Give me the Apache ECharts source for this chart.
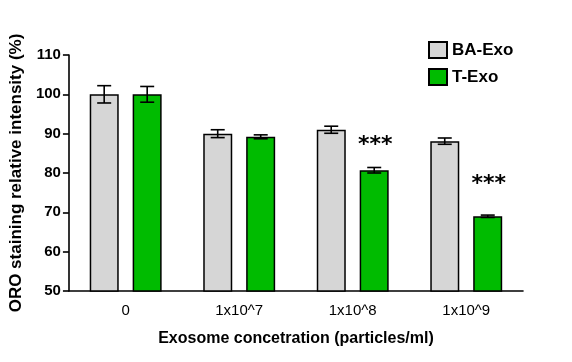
<!DOCTYPE html>
<html><head><meta charset="utf-8">
<script src="https://cdn.jsdelivr.net/npm/echarts@6/dist/echarts.min.js"></script>
<style>html,body{margin:0;padding:0;background:#fff}#c{width:572px;height:362px}</style>
</head><body><div id="c"></div>
<script>
const categories = ['0', '1x10^7', '1x10^8', '1x10^9'];
const baExo = [100, 90, 91, 88.1];
const baErr = [2.2, 1.0, 0.9, 0.8];
const tExo = [100, 89.2, 80.7, 69.0];
const tErr = [2.0, 0.5, 0.7, 0.3];
const starText = ['', '', '***', '***'];
const starY = [null, null, 87.9, 78];
const yTicks = [50, 60, 70, 80, 90, 100, 110];

const FONT = 'Liberation Sans, Arial, sans-serif';
const BAR_W = 29, OFF = 21.5;

function errSeries(name, vals, errs, offset) {
  return {
    type: 'custom', name: name + ' err', silent: true, z: 5,
    data: vals.map((v, i) => [i, v, errs[i]]),
    renderItem: function (params, api) {
      const i = api.value(0), v = api.value(1), e = api.value(2);
      const top = api.coord([i, v + e]);
      const bot = api.coord([i, v - e]);
      const x = top[0] + offset;
      const half = 7;
      const st = { stroke: '#000', lineWidth: 1.6 };
      return { type: 'group', children: [
        { type: 'line', shape: { x1: x, y1: top[1], x2: x, y2: bot[1] }, style: st },
        { type: 'line', shape: { x1: x - half, y1: top[1], x2: x + half, y2: top[1] }, style: st },
        { type: 'line', shape: { x1: x - half, y1: bot[1], x2: x + half, y2: bot[1] }, style: st }
      ]};
    }
  };
}

const chart = echarts.init(document.getElementById('c'));
chart.setOption({
  animation: false,
  backgroundColor: '#fff',
  grid: { left: 67, right: 49, top: 55, bottom: 71 },
  legend: {
    data: ['BA-Exo', 'T-Exo'], orient: 'vertical', left: 423, top: 36,
    itemWidth: 18, itemHeight: 16, itemGap: 9, icon: 'rect',
    textStyle: { fontFamily: FONT, fontSize: 17, fontWeight: 'bold', color: '#000' }
  },
  xAxis: {
    type: 'category', data: categories,
    name: 'Exosome concetration (particles/ml)', nameLocation: 'middle', nameGap: 40,
    nameTextStyle: { fontFamily: FONT, fontSize: 16, fontWeight: 'bold', color: '#000' },
    axisLine: { lineStyle: { color: '#000', width: 1.6 } },
    axisTick: { alignWithLabel: true, length: 5, lineStyle: { color: '#000', width: 1.6 } },
    axisLabel: { fontFamily: FONT, fontSize: 15, color: '#000', margin: 12 }
  },
  yAxis: {
    type: 'value', min: 50, max: 110, interval: 10,
    name: 'ORO staining relative intensity (%)', nameLocation: 'middle', nameGap: 36,
    nameTextStyle: { fontFamily: FONT, fontSize: 17, fontWeight: 'bold', color: '#000' },
    axisLine: { show: true, lineStyle: { color: '#000', width: 1.6 } },
    axisTick: { show: true, length: 6, lineStyle: { color: '#000', width: 1.6 } },
    splitLine: { show: false },
    axisLabel: { fontFamily: FONT, fontSize: 15, fontWeight: 'bold', color: '#000', margin: 8 }
  },
  series: [
    { name: 'BA-Exo', type: 'bar', data: baExo, barWidth: BAR_W, barGap: '48%',
      itemStyle: { color: '#d6d6d6', borderColor: '#000', borderWidth: 1.5 } },
    { name: 'T-Exo', type: 'bar', data: tExo, barWidth: BAR_W,
      itemStyle: { color: '#00bb00', borderColor: '#000', borderWidth: 1.5 } },
    errSeries('BA-Exo', baExo, baErr, -OFF),
    errSeries('T-Exo', tExo, tErr, OFF),
    {
      type: 'custom', name: 'stars', silent: true, z: 6,
      data: starY.map((v, i) => [i, v, starText[i]]).filter(d => d[1] != null),
      renderItem: function (params, api) {
        const p = api.coord([api.value(0), api.value(1)]);
        return { type: 'text', x: p[0] + OFF + 1, y: p[1] + 3,
          style: { text: starText[api.value(0)], fontFamily: 'DejaVu Sans, sans-serif', fontSize: 22, fontWeight: 'bold',
            fill: '#000', align: 'center', verticalAlign: 'middle' } };
      }
    }
  ]
});
</script></body></html>
